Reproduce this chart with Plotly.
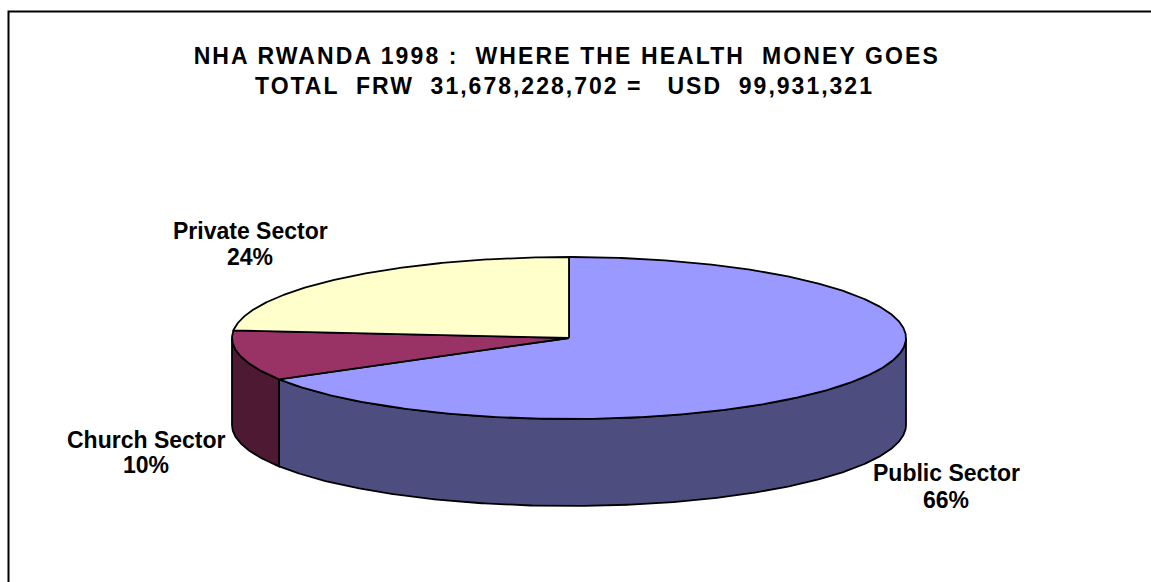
import numpy as np
import plotly.graph_objects as go

sectors = ["Public Sector", "Church Sector", "Private Sector"]
shares = [66.49, 10.0, 23.51]
share_labels = ["66%", "10%", "24%"]
top_colors = ["#9999FF", "#993366", "#FFFFCC"]
side_colors = ["#4D4D7F", "#4D1933", "#7F7F66"]
title_lines = [
    "NHA RWANDA 1998 :  WHERE THE HEALTH  MONEY GOES",
    "TOTAL  FRW  31,678,228,702 =   USD  99,931,321",
]

# pie drawn in page pixels, y axis reversed
CX, CY = 569, 338
RX, RY = 337, 81
DEPTH = 87
LABEL_POS = {
    "Public Sector": (946, 473, 500),
    "Church Sector": (146, 440, 465),
    "Private Sector": (250, 231, 257),
}


def rim(start, end, drop=0):
    # clockwise from 12 o'clock, angles in degrees
    t = np.radians(np.arange(start, end, 0.5).tolist() + [end])
    return CX + RX * np.sin(t), CY - RY * np.cos(t) + drop


fig = go.Figure()

edges = np.cumsum([0] + shares) * 3.6

# walls first, only the front half of the pie shows them
for i, sector in enumerate(sectors):
    start, end = max(edges[i], 90), min(edges[i + 1], 270)
    if start >= end:
        continue
    x, y = rim(start, end)
    xb, yb = rim(start, end, DEPTH)
    fig.add_trace(go.Scatter(
        x=np.concatenate([x, xb[::-1], x[:1]]),
        y=np.concatenate([y, yb[::-1], y[:1]]),
        mode="lines", fill="toself", fillcolor=side_colors[i],
        line=dict(color="black", width=1.8), hoverinfo="skip",
    ))

for i, sector in enumerate(sectors):
    x, y = rim(edges[i], edges[i + 1])
    fig.add_trace(go.Scatter(
        x=np.concatenate([[CX], x, [CX]]),
        y=np.concatenate([[CY], y, [CY]]),
        mode="lines", fill="toself", fillcolor=top_colors[i],
        line=dict(color="black", width=1.8), name=sector, hoverinfo="name",
    ))

font = dict(family="Liberation Sans, Arial, sans-serif", size=23, color="black")
for i, sector in enumerate(sectors):
    lx, y1, y2 = LABEL_POS[sector]
    fig.add_annotation(x=lx, y=y1, text=f"<b>{sector}</b>", showarrow=False, font=font)
    fig.add_annotation(x=lx, y=y2, text=f"<b>{share_labels[i]}</b>", showarrow=False, font=font)

fig.add_annotation(x=566, y=56, text=f"<b>{title_lines[0]}</b>", showarrow=False, font=font)
fig.add_annotation(x=564, y=86, text=f"<b>{title_lines[1]}</b>", showarrow=False, font=font)

# frame runs off the page at the right and bottom
fig.add_shape(type="path", path="M 8.5 582 L 8.5 11.5 L 1151 11.5",
              line=dict(color="black", width=2), layer="below")

fig.update_layout(
    width=1151, height=582,
    margin=dict(l=0, r=0, t=0, b=0),
    showlegend=False,
    plot_bgcolor="white", paper_bgcolor="white",
    xaxis=dict(range=[0, 1151], visible=False, fixedrange=True),
    yaxis=dict(range=[582, 0], visible=False, fixedrange=True),
)

# drop the page margin, and spread the title letters like the original
post = """
document.body.style.margin = '0';
document.querySelectorAll('.annotation-text').forEach(function (t) {
  if (t.textContent.indexOf('NHA') === 0) {
    t.style.letterSpacing = '2.1px';
  } else if (t.textContent.indexOf('TOTAL') === 0) {
    t.style.letterSpacing = '2px';
  }
});
"""
fig.write_html("out.html", post_script=post, config=dict(displayModeBar=False))
